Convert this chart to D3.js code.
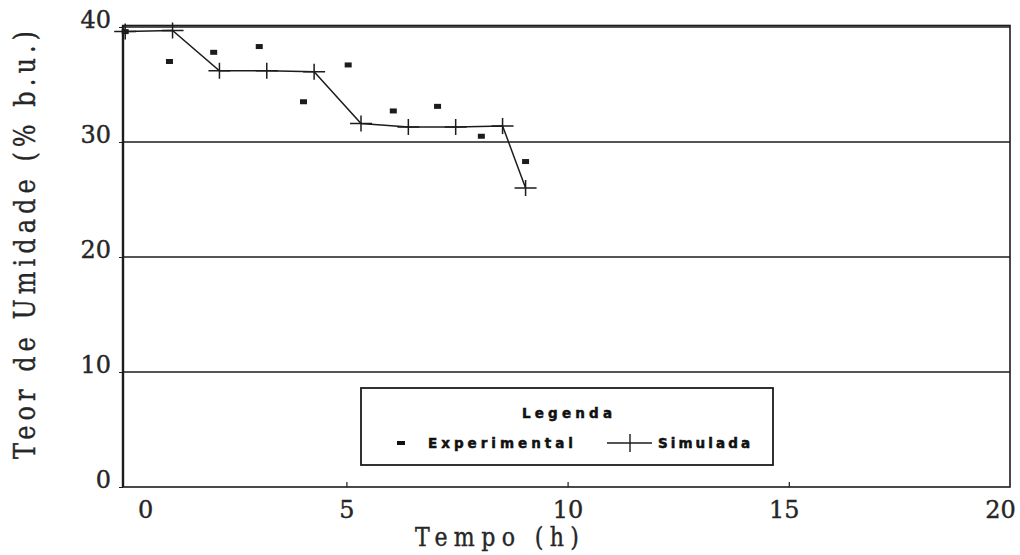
<!DOCTYPE html>
<html>
<head>
<meta charset="utf-8">
<script src="https://cdn.jsdelivr.net/npm/d3@7"></script>
<style>
  html, body { margin: 0; padding: 0; background: #fff; }
  svg { display: block; }
</style>
</head>
<body>
<svg id="chart" width="1020" height="555"></svg>
<script>
// Moisture content (% wet basis) over drying time (h)
const tempoExp = [0, 1.0, 2.0, 3.03, 4.03, 5.04, 6.06, 7.06, 8.05, 9.05];
const umidExp  = [39.6, 37.0, 37.8, 38.3, 33.5, 36.7, 32.7, 33.1, 30.5, 28.3];

const tempoSim = [0, 1.07, 2.13, 3.2, 4.27, 5.33, 6.4, 7.47, 8.53, 9.05];
const umidSim  = [39.6, 39.7, 36.2, 36.2, 36.1, 31.6, 31.3, 31.3, 31.4, 26.0];

const xTicks = [0, 5, 10, 15, 20];
const yTicks = [0, 10, 20, 30, 40];
const gridValues = [10, 20, 30, 40];

const legendTitle = "Legenda";
const legendLabels = ["Experimental", "Simulada"];
const xTitle = "Tempo (h)";
const yTitle = "Teor de Umidade (% b.u.)";

const ink = "#1c1c1c";
const textInk = "#262626";
const serif = "'DejaVu Serif', 'Liberation Serif', serif";
const sansBold = "'DejaVu Sans', 'Liberation Sans', Arial, sans-serif";

const svg = d3.select("#chart");

const x = d3.scaleLinear().domain([-0.05, 20]).range([123, 1010]);
const y = d3.scaleLinear().domain([0, 40]).range([487, 27]);

// horizontal grid lines
svg.append("g")
  .selectAll("line")
  .data(gridValues)
  .join("line")
  .attr("x1", x.range()[0]).attr("x2", x.range()[1])
  .attr("y1", d => y(d)).attr("y2", d => y(d))
  .attr("stroke", ink).attr("stroke-width", 1.4);

// plot frame
svg.append("rect")
  .attr("x", x.range()[0]).attr("y", y(40) - 1.5)
  .attr("width", x.range()[1] - x.range()[0])
  .attr("height", y(0) - y(40) + 1.5)
  .attr("fill", "none").attr("stroke", ink).attr("stroke-width", 1.6);

// left axis line slightly heavier
svg.append("line")
  .attr("x1", x.range()[0]).attr("x2", x.range()[0])
  .attr("y1", y(40) - 2).attr("y2", y(0))
  .attr("stroke", ink).attr("stroke-width", 2.4);

// y axis
const yAxis = svg.append("g")
  .attr("transform", `translate(${x.range()[0]},0)`)
  .call(d3.axisLeft(y).tickValues(yTicks).tickSize(4).tickPadding(8).tickFormat(d3.format("d")));
yAxis.select(".domain").remove();
yAxis.selectAll("line").attr("stroke", ink).attr("stroke-width", 1);
yAxis.selectAll("text")
  .attr("dy", "0.02em")
  .attr("font-family", serif).attr("font-size", 24).attr("fill", textInk)
  .attr("stroke", textInk).attr("stroke-width", 0.4);

// x axis
const xAxis = svg.append("g")
  .attr("transform", `translate(0,${y(0)})`)
  .call(d3.axisBottom(x).tickValues(xTicks).tickSize(-5).tickPadding(0).tickFormat(d3.format("d")));
xAxis.select(".domain").remove();
xAxis.selectAll("line")
  .attr("stroke", ink).attr("stroke-width", 1.2)
  .attr("opacity", d => (d === 0 || d === 20) ? 0 : 1);
xAxis.selectAll("text")
  .attr("y", 31).attr("dy", 0)
  .attr("dx", d => d === 0 ? 20 : (d === 20 ? -10 : (d === 15 ? -5 : 0)))
  .attr("font-family", serif).attr("font-size", 24).attr("fill", textInk)
  .attr("stroke", textInk).attr("stroke-width", 0.4);

// axis titles: narrow glyphs spread over a wide, typewriter-like run
const xTitleScale = 0.85;
svg.append("text")
  .attr("transform", `translate(497,546) scale(${xTitleScale},1)`)
  .attr("text-anchor", "middle")
  .attr("font-family", serif).attr("font-size", 26).attr("fill", textInk)
  .attr("stroke", textInk).attr("stroke-width", 0.4)
  .attr("textLength", 164 / xTitleScale).attr("lengthAdjust", "spacing")
  .text(xTitle);

const yTitleScale = 0.8;
svg.append("text")
  .attr("transform", `translate(35,245) rotate(-90) scale(${yTitleScale},1)`)
  .attr("text-anchor", "middle")
  .attr("font-family", serif).attr("font-size", 30).attr("fill", textInk)
  .attr("stroke", textInk).attr("stroke-width", 0.4)
  .attr("textLength", 428 / yTitleScale).attr("lengthAdjust", "spacing")
  .text(yTitle);

// simulated curve with cross markers
const line = d3.line().x(d => x(d[0])).y(d => y(d[1]));
const simPts = tempoSim.map((t, i) => [t, umidSim[i]]);
svg.append("path")
  .attr("d", line(simPts))
  .attr("fill", "none").attr("stroke", ink).attr("stroke-width", 1.5);

const cross = (cx, cy) => `M${cx - 11},${cy}H${cx + 11}M${cx},${cy - 8}V${cy + 8}`;
svg.append("g")
  .selectAll("path")
  .data(simPts)
  .join("path")
  .attr("d", d => cross(x(d[0]), y(d[1])))
  .attr("stroke", ink).attr("stroke-width", 1.5).attr("fill", "none");

// experimental points as small squares
const expPts = tempoExp.map((t, i) => [t, umidExp[i]]);
svg.append("g")
  .selectAll("rect")
  .data(expPts)
  .join("rect")
  .attr("x", d => x(d[0]) - 3.5).attr("y", d => y(d[1]) - 2.5)
  .attr("width", 7).attr("height", 5)
  .attr("fill", ink);

// legend
const lg = svg.append("g");
lg.append("rect")
  .attr("x", 361).attr("y", 388).attr("width", 412).attr("height", 77)
  .attr("fill", "#fff").attr("stroke", ink).attr("stroke-width", 1.8);
const legendText = sel => sel
  .attr("font-family", sansBold).attr("font-weight", "bold").attr("font-size", 13.5)
  .attr("fill", "#111").attr("stroke", "#111").attr("stroke-width", 0.5)
  .attr("lengthAdjust", "spacing");
lg.append("text")
  .attr("x", 567).attr("y", 418)
  .attr("text-anchor", "middle")
  .call(legendText)
  .attr("textLength", 90)
  .text(legendTitle);
lg.append("rect")
  .attr("x", 397).attr("y", 441).attr("width", 8).attr("height", 4).attr("fill", "#111");
lg.append("text")
  .attr("x", 428).attr("y", 448)
  .call(legendText)
  .attr("textLength", 145)
  .text(legendLabels[0]);
lg.append("path")
  .attr("d", "M607,443H652M630,434V452")
  .attr("stroke", ink).attr("stroke-width", 1.4).attr("fill", "none");
lg.append("text")
  .attr("x", 658).attr("y", 448)
  .call(legendText)
  .attr("textLength", 92)
  .text(legendLabels[1]);
</script>
</body>
</html>
